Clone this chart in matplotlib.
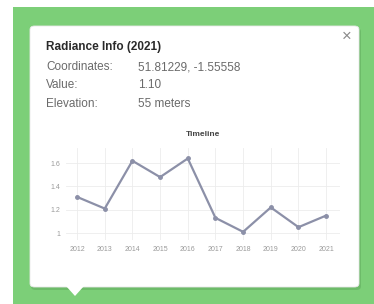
import numpy as np
import matplotlib
matplotlib.use("Agg")
import matplotlib.pyplot as plt
from matplotlib.patches import Rectangle, FancyBboxPatch, Polygon

plt.rcParams["font.family"] = ["Liberation Sans", "DejaVu Sans"]

W, H = 374, 304

years = ["2012", "2013", "2014", "2015", "2016", "2017", "2018", "2019", "2020", "2021"]
values = [1.31, 1.21, 1.62, 1.48, 1.64, 1.13, 1.01, 1.22, 1.05, 1.15]
yticks = [1.0, 1.2, 1.4, 1.6]
yticklabels = ["1", "1.2", "1.4", "1.6"]

info_labels = ["Coordinates:", "Value:", "Elevation:"]
info_values = ["51.81229, -1.55558", "1.10", "55 meters"]


def fx(px):
    return px / W


def fy(py):
    return 1 - py / H


fig = plt.figure(figsize=(W / 100, H / 100), dpi=100)
fig.patch.set_facecolor("white")

# green map background
fig.patches.append(Rectangle((fx(13), 0), 1 - fx(13), fy(7), transform=fig.transFigure,
                             facecolor="#7ccf78", edgecolor="none", zorder=0))

# popup shadow + box
fig.patches.append(FancyBboxPatch((fx(31), fy(290)), fx(330), fy(28) - fy(290),
                                  boxstyle="round,pad=0,rounding_size=0.012",
                                  transform=fig.transFigure, facecolor="#5fa85c",
                                  edgecolor="none", alpha=0.5, zorder=1))
fig.patches.append(FancyBboxPatch((fx(30), fy(287)), fx(329), fy(26) - fy(287),
                                  boxstyle="round,pad=0,rounding_size=0.012",
                                  transform=fig.transFigure, facecolor="white",
                                  edgecolor="#e8e8e8", lw=0.6, zorder=2))
# pointer
fig.patches.append(Polygon([(fx(66), fy(286)), (fx(84), fy(286)), (fx(75), fy(296))],
                           closed=True, transform=fig.transFigure,
                           facecolor="white", edgecolor="none", zorder=3))

# close button
fig.text(fx(347), fy(36), "×", fontsize=12, color="#8a8a8a", ha="center", va="center")

# header text
fig.text(fx(46), fy(47), "Radiance Info (2021)", fontsize=8.5, fontweight="bold",
         color="#2a2a2a", va="center")
for i, (lab, val) in enumerate(zip(info_labels, info_values)):
    y = 67 + i * 18.5
    fig.text(fx(46), fy(y), lab, fontsize=8.5, color="#6a6a6a", va="center")
    fig.text(fx(138), fy(y), val, fontsize=8.5, color="#6a6a6a", va="center")

# divider
fig.add_artist(plt.Line2D([fx(52), fx(345)], [fy(124), fy(124)],
                          transform=fig.transFigure, color="#e4e4e4", lw=0.8))

# chart
ax = fig.add_axes([fx(66), fy(240), fx(340) - fx(66), fy(148) - fy(240)])
ax.set_zorder(10)
ax.set_title("Timeline", fontsize=6, fontweight="bold", color="#444444", pad=9)
x = np.arange(len(years))
ax.plot(x, values, color="#8c90a8", lw=1.6, marker="o", markersize=2.5,
        markerfacecolor="#8c90a8")
ax.set_xlim(-0.4, 9.5)
ax.set_ylim(0.94, 1.73)
ax.set_xticks(x)
ax.set_xticklabels(years)
ax.set_yticks(yticks)
ax.set_yticklabels(yticklabels)
ax.tick_params(labelsize=5, colors="#9a9a9a", length=0, pad=4)
ax.grid(True, color="#ececec", lw=0.6)
for s in ax.spines.values():
    s.set_visible(False)
ax.set_facecolor("white")

fig.savefig("out.png", dpi=100)
